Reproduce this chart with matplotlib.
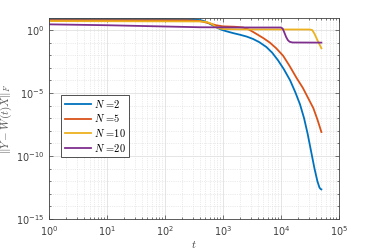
import matplotlib
matplotlib.use("Agg")
import matplotlib.pyplot as plt
from matplotlib.ticker import LogLocator, NullFormatter
import numpy as np

plt.rcParams['mathtext.fontset'] = 'cm'

# values as (log10 t, log10 error)
logt_n2 = [0, 2.0, 2.5, 2.62, 2.69, 2.78, 2.89, 2.97, 3.06, 3.18, 3.29, 3.41, 3.52, 3.63,
           3.75, 3.85, 3.95, 4.05, 4.16, 4.25, 4.33, 4.4, 4.46, 4.52, 4.58, 4.63, 4.665,
           4.685, 4.699]
loge_n2 = [0.86, 0.86, 0.84, 0.78, 0.69, 0.48, 0.21, 0.03, -0.1, -0.25, -0.37, -0.52, -0.71,
           -0.97, -1.35, -1.8, -2.4, -3.1, -4.0, -4.95, -5.9, -7.0, -8.2, -9.6, -11.0, -12.0,
           -12.5, -12.62, -12.65]

logt_n5 = [0, 2.4, 2.6, 2.75, 2.88, 3.0, 3.2, 3.35, 3.45, 3.52, 3.6, 3.7, 3.81, 3.92, 4.04,
           4.15, 4.27, 4.38, 4.47, 4.56, 4.63, 4.699]
loge_n5 = [0.78, 0.77, 0.72, 0.55, 0.38, 0.29, 0.26, 0.2, 0.03, -0.15, -0.37, -0.65, -1.0,
           -1.45, -2.05, -2.85, -3.8, -4.6, -5.4, -6.2, -7.1, -8.1]

logt_n10 = [0, 2.6, 2.72, 2.8, 2.87, 2.93, 3.0, 3.3, 4.5, 4.54, 4.58, 4.63, 4.699]
loge_n10 = [0.71, 0.68, 0.64, 0.5, 0.28, 0.14, 0.08, 0.05, 0.04, 0.0, -0.3, -0.8, -1.45]

logt_n20 = [0, 1.0, 2.0, 2.6, 3.5, 4.0, 4.03, 4.06, 4.09, 4.12, 4.15, 4.2, 4.699]
loge_n20 = [0.45, 0.38, 0.28, 0.22, 0.2, 0.2, 0.12, -0.2, -0.55, -0.8, -0.93, -0.99, -1.0]

labels = [r'$N$ =2', r'$N$ =5', r'$N$ =10', r'$N$ =20']
colors = ['#0072BD', '#D95319', '#EDB120', '#7E2F8E']

fig = plt.figure(figsize=(3.74, 2.49), dpi=100)
ax = fig.add_axes([0.131, 0.1205, 0.775, 0.806])

series = [(logt_n2, loge_n2), (logt_n5, loge_n5), (logt_n10, loge_n10), (logt_n20, loge_n20)]
for (lt, le), lab, c in zip(series, labels, colors):
    ax.plot(10 ** np.array(lt), 10 ** np.array(le), color=c, lw=1.3, label=lab)

ax.set_xscale('log')
ax.set_yscale('log')
ax.set_xlim(1, 1e5)
ax.set_ylim(1e-15, 10 ** 0.93)

ax.set_yticks([1e-15, 1e-10, 1e-5, 1e0])
ax.yaxis.set_minor_locator(LogLocator(base=10, subs=(1.0,), numticks=30))
ax.yaxis.set_minor_formatter(NullFormatter())
ax.xaxis.set_minor_locator(LogLocator(base=10, subs=np.arange(2, 10), numticks=30))
ax.xaxis.set_minor_formatter(NullFormatter())

ax.grid(True, which='major', color='0.88', lw=0.6, ls='-')
ax.grid(True, which='minor', color='0.85', lw=0.5, ls=':')

for s in ax.spines.values():
    s.set_color('0.25')
    s.set_linewidth(0.6)
ax.tick_params(which='both', direction='in', top=True, right=True, colors='0.25',
               labelsize=7, width=0.5)
ax.tick_params(which='major', length=3)
ax.tick_params(which='minor', length=1.5)

ax.set_xlabel(r'$t$', fontsize=8, color='0.25', labelpad=1)
ax.set_ylabel(r'$\|Y-W(t)X\|_F$', fontsize=8, color='0.35', labelpad=1)

leg = ax.legend(loc='upper left', bbox_to_anchor=(0.025, 0.645),
                prop={'family': 'cmr10', 'size': 7.5},
                handlelength=2.5, handletextpad=0.3, labelspacing=0.25,
                borderpad=0.3, fancybox=False, framealpha=1, edgecolor='0.2')
leg.get_frame().set_linewidth(0.6)

fig.savefig('out.png', dpi=100)
